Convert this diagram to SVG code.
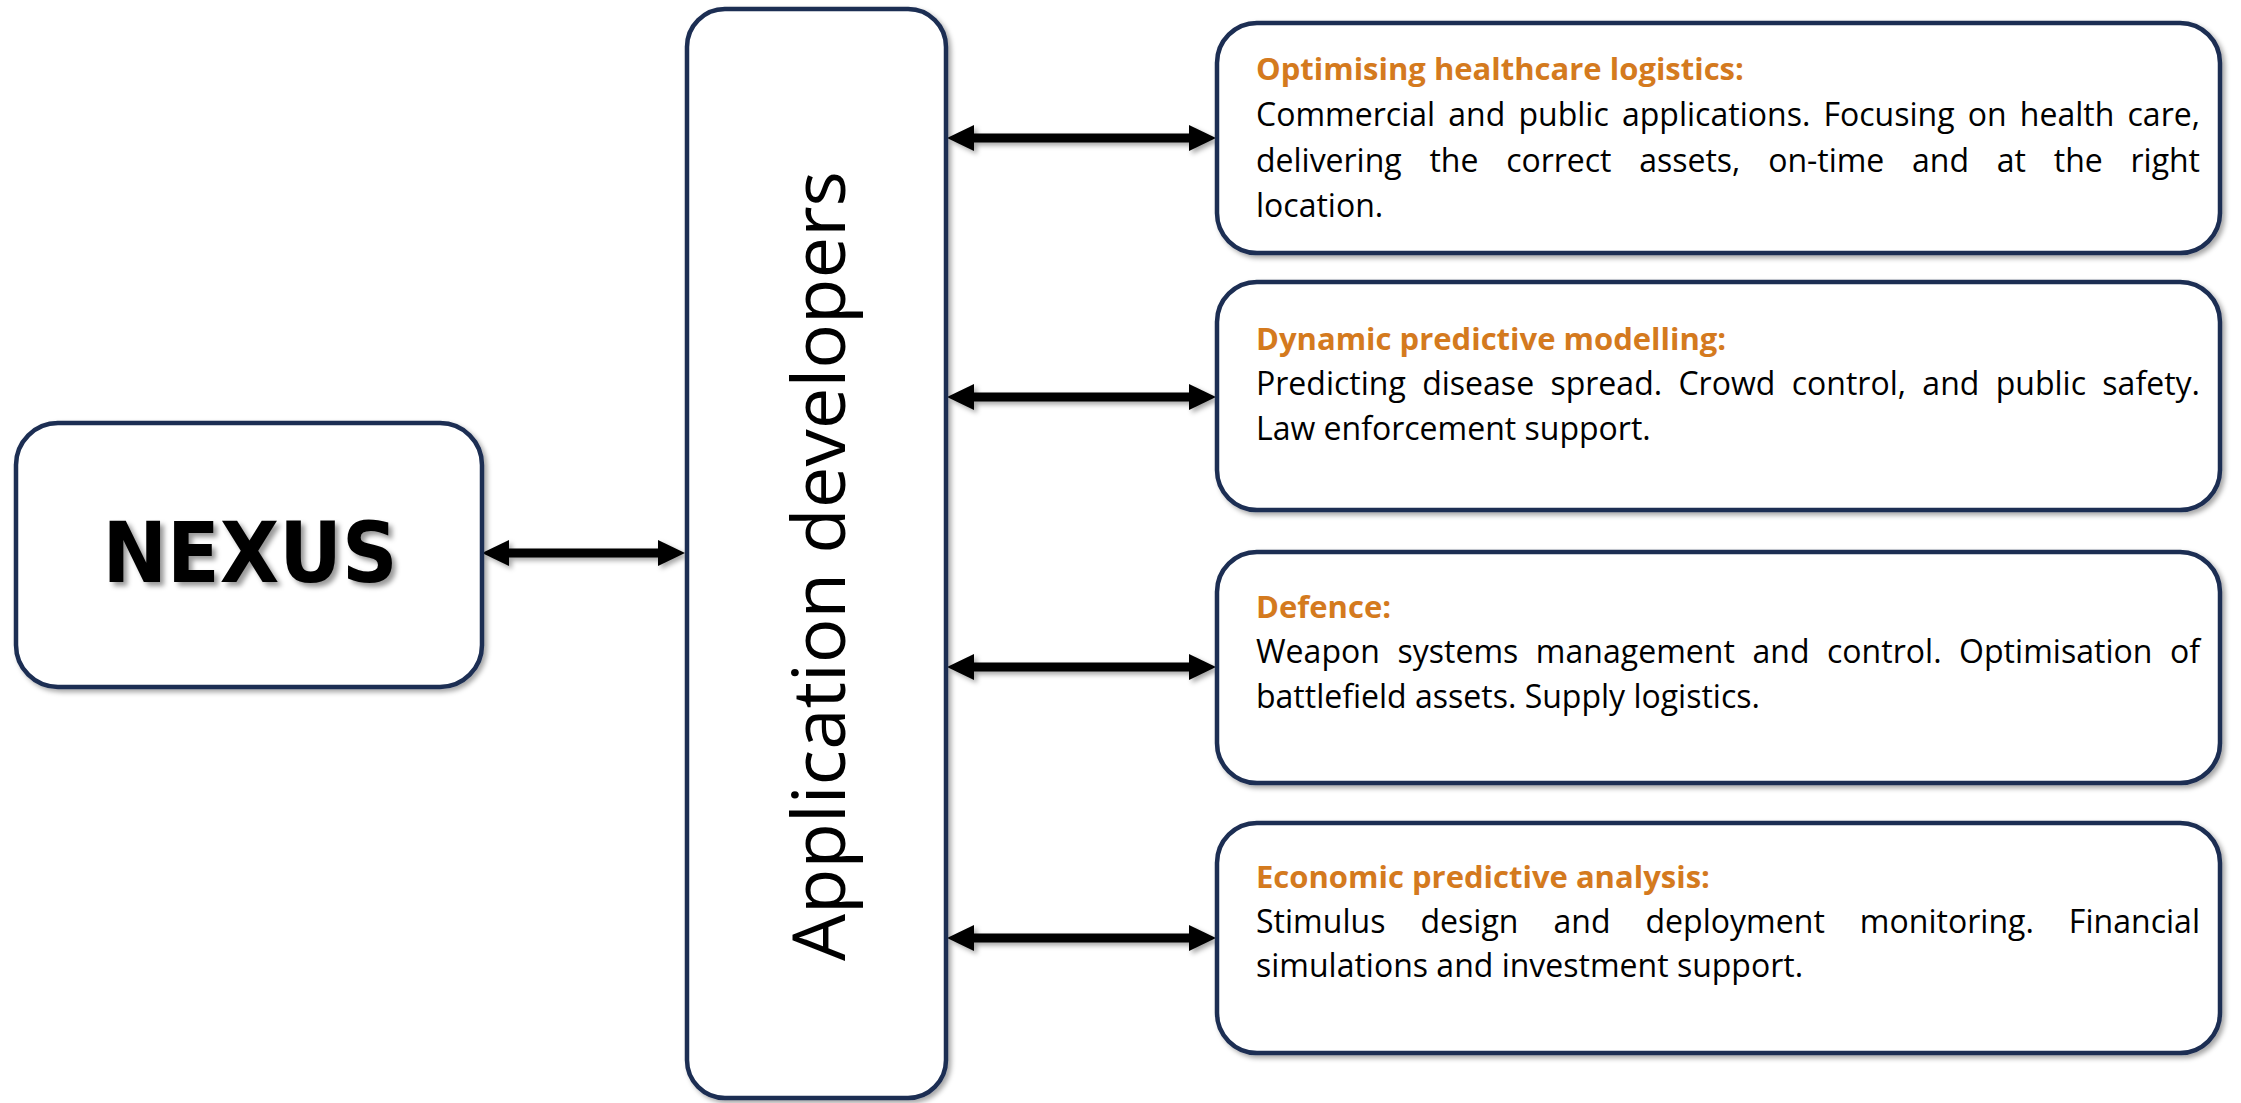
<svg xmlns="http://www.w3.org/2000/svg" width="2241" height="1103" viewBox="0 0 2241 1103">
<style>
.box{fill:#ffffff;stroke:#1b2d52;stroke-width:4.5;filter:url(#sh)}
.conn{stroke:#000;stroke-width:9;fill:none;marker-start:url(#ah);marker-end:url(#ah)}
.hd{font-family:"Open Sans","Liberation Sans",sans-serif;font-weight:700;font-size:31px;fill:#d47a1e}
.bd{font-family:"Open Sans","Liberation Sans",sans-serif;font-size:32px;fill:#000}
.app{font-family:"Open Sans","Liberation Sans",sans-serif;font-size:74px;fill:#000}
.nx{font-family:"DejaVu Sans","Liberation Sans",sans-serif;font-weight:700;font-size:84px;fill:#000;filter:url(#sh2)}
</style>
<defs>
<filter id="sh" x="-10%" y="-10%" width="120%" height="120%">
<feDropShadow dx="3" dy="3" stdDeviation="2.5" flood-color="#000" flood-opacity="0.35"/>
</filter>
<filter id="sh2" x="-10%" y="-10%" width="120%" height="130%">
<feDropShadow dx="4" dy="4" stdDeviation="2.5" flood-color="#000" flood-opacity="0.4"/>
</filter>
<filter id="shc" filterUnits="userSpaceOnUse" x="0" y="0" width="2241" height="1103">
<feDropShadow dx="3" dy="3" stdDeviation="2.5" flood-color="#000" flood-opacity="0.35"/>
</filter>
<marker id="ah" markerUnits="userSpaceOnUse" markerWidth="28" markerHeight="28" refX="7" refY="13" orient="auto-start-reverse">
<path d="M0,0 L27,13 L0,26 z" fill="#000"/>
</marker>
</defs>
<rect width="2241" height="1103" fill="#fff"/>

<g id="connectors" filter="url(#shc)">
<line class="conn" x1="502" y1="553" x2="665" y2="553"/>
<line class="conn" x1="967" y1="138" x2="1196" y2="138"/>
<line class="conn" x1="967" y1="397" x2="1196" y2="397"/>
<line class="conn" x1="967" y1="667" x2="1196" y2="667"/>
<line class="conn" x1="967" y1="938" x2="1196" y2="938"/>
</g>

<g id="nexus">
<rect class="box" x="16" y="423" width="466" height="264" rx="42"/>
<text class="nx" x="250" y="582" text-anchor="middle" textLength="295" lengthAdjust="spacingAndGlyphs">NEXUS</text>
</g>

<g id="app-developers">
<rect class="box" x="687" y="9" width="259" height="1089" rx="38"/>
<text class="app" transform="translate(845,566) rotate(-90)" text-anchor="middle" textLength="790" lengthAdjust="spacingAndGlyphs">Application developers</text>
</g>

<g id="healthcare">
<rect class="box" x="1217" y="23" width="1003" height="230" rx="40"/>
<text class="hd" x="1256" y="80">Optimising healthcare logistics:</text>
<text class="bd" x="1256" y="126" word-spacing="4.8" textLength="944" lengthAdjust="spacing">Commercial and public applications. Focusing on health care,</text>
<text class="bd" x="1256" y="172" word-spacing="19.5" textLength="944" lengthAdjust="spacing">delivering the correct assets, on-time and at the right</text>
<text class="bd" x="1256" y="217">location.</text>
</g>

<g id="modelling">
<rect class="box" x="1217" y="282" width="1003" height="228" rx="40"/>
<text class="hd" x="1256" y="350">Dynamic predictive modelling:</text>
<text class="bd" x="1256" y="395" word-spacing="8" textLength="944" lengthAdjust="spacing">Predicting disease spread. Crowd control, and public safety.</text>
<text class="bd" x="1256" y="440">Law enforcement support.</text>
</g>

<g id="defence">
<rect class="box" x="1217" y="552" width="1003" height="231" rx="40"/>
<text class="hd" x="1256" y="618">Defence:</text>
<text class="bd" x="1256" y="663" word-spacing="9.1" textLength="944" lengthAdjust="spacing">Weapon systems management and control. Optimisation of</text>
<text class="bd" x="1256" y="708">battlefield assets. Supply logistics.</text>
</g>

<g id="economic">
<rect class="box" x="1217" y="823" width="1003" height="230" rx="40"/>
<text class="hd" x="1256" y="888">Economic predictive analysis:</text>
<text class="bd" x="1256" y="933" word-spacing="26.6" textLength="944" lengthAdjust="spacing">Stimulus design and deployment monitoring. Financial</text>
<text class="bd" x="1256" y="977">simulations and investment support.</text>
</g>
</svg>
